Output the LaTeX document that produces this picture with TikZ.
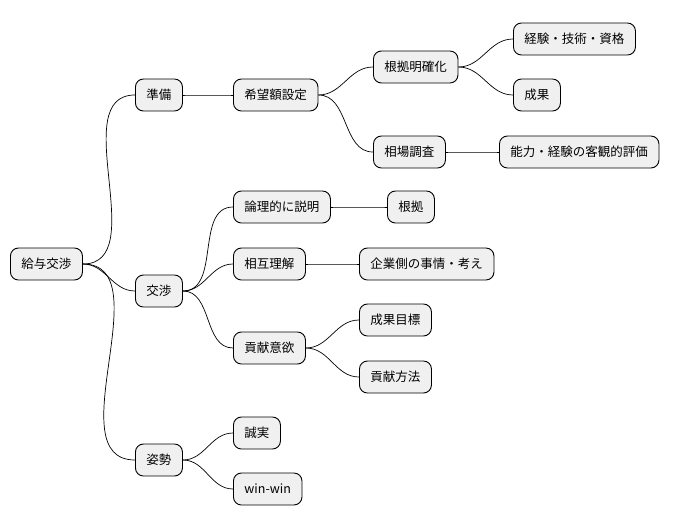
\documentclass[tikz,border=0pt]{standalone}
\usepackage{fontspec}
\setmainfont{Noto Sans CJK JP}
\begin{document}
\begin{tikzpicture}[x=1pt,y=-1pt,
  box/.style={draw=black,line width=0.9pt,fill=black!6,rounded corners=8pt,anchor=west,
    minimum height=32pt,inner xsep=11pt,font=\fontsize{12.5}{15}\selectfont},
  link/.style={line width=0.7pt}]
\useasboundingbox (0,0) rectangle (684,527);
\node[box] (r) at (10,264) {給与交渉};
\node[box] (a) at (135,95) {準備};
\node[box] (b) at (135,291) {交渉};
\node[box] (c) at (135,460) {姿勢};
\node[box] (a1) at (233,95) {希望額設定};
\node[box] (a11) at (373,67) {根拠明確化};
\node[box] (a12) at (373,152) {相場調査};
\node[box] (a111) at (513,39) {経験・技術・資格};
\node[box] (a112) at (513,95) {成果};
\node[box] (a121) at (499,152) {能力・経験の客観的評価};
\node[box] (b1) at (233,207) {論理的に説明};
\node[box] (b11) at (387,207) {根拠};
\node[box] (b2) at (233,264) {相互理解};
\node[box] (b21) at (359,264) {企業側の事情・考え};
\node[box] (b3) at (233,348) {貢献意欲};
\node[box] (b31) at (359,320) {成果目標};
\node[box] (b32) at (359,377) {貢献方法};
\node[box] (c1) at (233,433) {誠実};
\node[box] (c2) at (233,489) {win-win};
\foreach \p/\c in {r/a,r/b,r/c,a/a1,a1/a11,a1/a12,a11/a111,a11/a112,a12/a121,
  b/b1,b/b2,b/b3,b1/b11,b2/b21,b3/b31,b3/b32,c/c1,c/c2}
  \draw[link] (\p.east) to[out=0,in=180] (\c.west);
\end{tikzpicture}
\end{document}
